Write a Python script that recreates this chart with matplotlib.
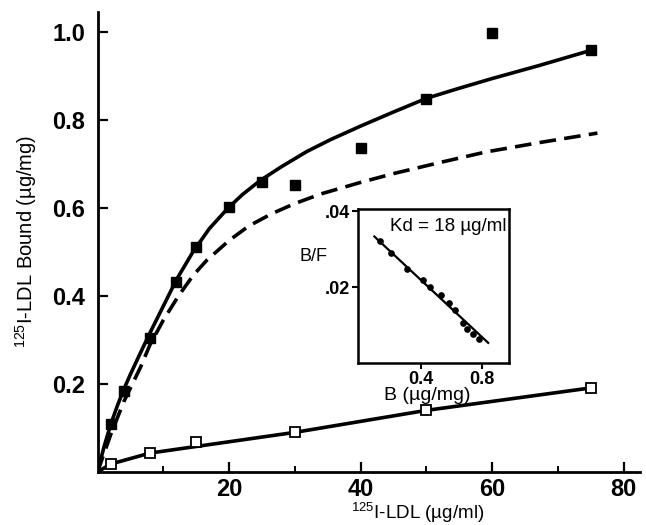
import matplotlib
matplotlib.use('Agg')
import matplotlib.pyplot as plt
from matplotlib.ticker import FixedLocator

plt.rcParams['font.family'] = ['Liberation Sans', 'DejaVu Sans']
plt.rcParams['mathtext.fontset'] = 'custom'
plt.rcParams['mathtext.rm'] = 'Liberation Sans'

# --- data ---
# total binding (filled squares) and its fitted curve
total_x = [2, 4, 8, 12, 15, 20, 25, 30, 40, 50, 60, 75]
total_y = [0.11, 0.185, 0.305, 0.432, 0.511, 0.603, 0.66, 0.652, 0.736, 0.848, 0.998, 0.958]
total_fit_x = [0, 1, 2, 3, 4, 5, 6.5, 8, 10, 12, 14.5, 17, 19.8, 22, 24.7, 28, 31.8, 35.4,
               40, 45, 50, 55, 60, 67, 75]
total_fit_y = [0, 0.058, 0.108, 0.15, 0.188, 0.222, 0.27, 0.317, 0.377, 0.437, 0.500, 0.553,
               0.599, 0.630, 0.662, 0.694, 0.728, 0.755, 0.786, 0.818, 0.849, 0.872, 0.894,
               0.923, 0.958]

# specific binding (dashed curve)
spec_x = [0, 2, 4, 6.5, 8, 10, 12.3, 14.5, 16.6, 20, 23, 26.5, 30, 34, 40, 45, 52, 59, 67, 76]
spec_y = [0, 0.085, 0.16, 0.237, 0.29, 0.345, 0.40, 0.446, 0.481, 0.526, 0.559, 0.587, 0.61,
          0.632, 0.658, 0.678, 0.703, 0.727, 0.748, 0.77]

# nonspecific binding (open squares)
nonspec_x = [2, 8, 15, 30, 50, 75]
nonspec_y = [0.018, 0.043, 0.068, 0.091, 0.141, 0.191]
nonspec_fit_x = [0, 2, 8, 30, 50, 75]
nonspec_fit_y = [0, 0.018, 0.043, 0.09, 0.14, 0.191]

# Scatchard inset
scat_b = [0.123, 0.201, 0.303, 0.408, 0.455, 0.533, 0.582, 0.624, 0.678, 0.705, 0.741, 0.783]
scat_bf = [0.0321, 0.0289, 0.0248, 0.0218, 0.0200, 0.0178, 0.0158, 0.0139, 0.0106, 0.0090, 0.0077, 0.0064]
scat_line_b = [0.089, 0.842]
scat_line_bf = [0.0333, 0.0053]

fig = plt.figure(figsize=(6.46, 5.25), dpi=100)

# --- main plot ---
ax = fig.add_axes([0.151, 0.101, 0.840, 0.876])
ax.plot(total_fit_x, total_fit_y, color='black', lw=2.6, solid_joinstyle='round')
ax.plot(spec_x, spec_y, color='black', lw=2.6, linestyle=(0, (4.6, 2.3)))
ax.plot(nonspec_fit_x, nonspec_fit_y, color='black', lw=2.6)
ax.plot(total_x, total_y, 's', color='black', markersize=7.5)
ax.plot(nonspec_x, nonspec_y, 's', markerfacecolor='white', markeredgecolor='black',
        markeredgewidth=1.3, markersize=7)

ax.set_xlim(0, 82.5)
ax.set_ylim(0, 1.045)
for side in ['top', 'right']:
    ax.spines[side].set_visible(False)
for side in ['left', 'bottom']:
    ax.spines[side].set_linewidth(2)

ax.xaxis.set_major_locator(FixedLocator([20, 40, 60, 80]))
ax.xaxis.set_minor_locator(FixedLocator([10, 30, 50, 70]))
ax.yaxis.set_major_locator(FixedLocator([0.2, 0.4, 0.6, 0.8, 1.0]))
ax.set_xticklabels(['20', '40', '60', '80'])
ax.set_yticklabels(['0.2', '0.4', '0.6', '0.8', '1.0'])
ax.tick_params(axis='both', which='major', direction='in', length=7, width=1.6,
               labelsize=17, pad=4)
ax.tick_params(axis='y', which='major', pad=9)
ax.tick_params(axis='x', which='minor', direction='in', length=4, width=1.4)
for lbl in ax.get_xticklabels() + ax.get_yticklabels():
    lbl.set_fontweight('bold')

fig.text(0.646, 0.0, r'$^{\mathrm{125}}$I-LDL (µg/ml)', ha='center', va='bottom', fontsize=13.5)
fig.text(0.040, 0.541, r'$^{\mathrm{125}}$I-LDL Bound (µg/mg)', ha='center', va='center',
         rotation=90, fontsize=14.5)

# --- Scatchard inset ---
ins = fig.add_axes([0.554, 0.3086, 0.234, 0.293])
ins.plot(scat_line_b, scat_line_bf, color='black', lw=1.6)
ins.plot(scat_b, scat_bf, 'o', color='black', markersize=3.8)
ins.set_xlim(-0.02, 0.98)
ins.set_ylim(0, 0.0405)
for s in ins.spines.values():
    s.set_linewidth(1.8)
ins.xaxis.set_major_locator(FixedLocator([0.4, 0.8]))
ins.yaxis.set_major_locator(FixedLocator([0.02, 0.04]))
ins.set_xticklabels(['0.4', '0.8'])
ins.set_yticklabels(['.02', '.04'])
ins.tick_params(direction='out', length=4, width=1.5, labelsize=13, pad=1.5)
for lbl in ins.get_xticklabels() + ins.get_yticklabels():
    lbl.set_fontweight('bold')
ins.text(0.98, 0.885, 'Kd = 18 µg/ml', transform=ins.transAxes, ha='right', va='center',
         fontsize=13.5)
fig.text(0.485, 0.512, 'B/F', ha='center', va='center', fontsize=13)
fig.text(0.661, 0.246, 'B (µg/mg)', ha='center', va='center', fontsize=14)

fig.savefig('out.png', dpi=100)
